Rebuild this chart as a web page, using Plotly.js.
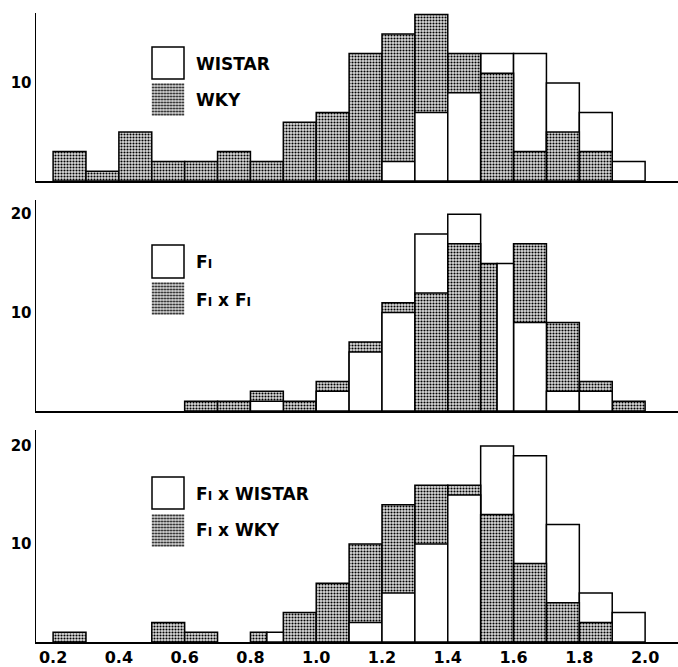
<!DOCTYPE html>
<html><head><meta charset="utf-8">
<script src="https://cdn.plot.ly/plotly-3.0.1.min.js"></script>
<style>html,body{margin:0;padding:0;background:#fff}</style>
</head><body><div id="chart" style="width:678px;height:667px"></div>
<script>
// bin start values (bins are 0.1 wide)
const bins = [0.2,0.3,0.4,0.5,0.6,0.7,0.8,0.9,1.0,1.1,1.2,1.3,1.4,1.5,1.6,1.7,1.8,1.9];
// panel 1
const wistar  = [0,0,0,0,0,0,0,0,0,0,2,7,9,13,13,10,7,2];
const wky     = [3,1,5,2,2,3,2,6,7,13,15,17,13,11,3,5,3,0];
// panel 2
const f1      = [0,0,0,0,0,0,1,0,2,6,10,18,20,15,9,2,2,0];
const f1xf1   = [0,0,0,0,1,1,2,1,3,7,11,12,17,15,17,9,3,1];
// panel 3
const f1xWistar = [0,0,0,0,0,0,1,0,0,2,5,10,15,20,19,12,5,3];
const f1xWky    = [1,0,0,2,1,0,1,3,6,10,14,16,16,13,8,4,2,0];
const xTicks = [0.2,0.4,0.6,0.8,1.0,1.2,1.4,1.6,1.8,2.0];
const xTickText = ['0.2','0.4','0.6','0.8','1.0','1.2','1.4','1.6','1.8','2.0'];
const SUB = 'F<span style="font-size:12px">I</span>';
const legendLabels = [
  ['WISTAR','WKY'],
  [SUB, SUB + ' x ' + SUB],
  [SUB + ' x WISTAR', SUB + ' x WKY']
];

const FONT = 'DejaVu Sans, sans-serif';
const W = 0.1;
const PAT = {size:3, solidity:0.4, fg:'#000000', bg:'#dcdcdc'};
const whiteMarker = {color:'#ffffff', line:{color:'#000', width:1.5}};
const stipMarker = {color:'#ffffff', line:{color:'#000', width:1.5},
  pattern:{shape:'.', fgcolor:PAT.fg, bgcolor:PAT.bg, size:PAT.size, solidity:PAT.solidity}};

function panelTraces(white, stip, ax) {
  const xa = 'x' + (ax===1?'':ax), ya = 'y' + (ax===1?'':ax);
  const pick = (arr, cond) => arr.map((v,i)=> cond(i) && v>0 ? v : null);
  const base = {type:'bar', x:bins, xaxis:xa, yaxis:ya, showlegend:false, hoverinfo:'skip'};
  return [
    Object.assign({}, base, {y:pick(white,i=>white[i]>stip[i]), offset:0, width:W, marker:whiteMarker}),
    Object.assign({}, base, {y:pick(stip,i=>stip[i]>white[i]), offset:0, width:W, marker:stipMarker}),
    Object.assign({}, base, {y:pick(white,i=>white[i]<stip[i]), offset:0, width:W, marker:whiteMarker}),
    Object.assign({}, base, {y:pick(stip,i=>stip[i]<white[i]), offset:0, width:W, marker:stipMarker}),
    Object.assign({}, base, {y:pick(stip,i=>stip[i]===white[i]), offset:0, width:W/2, marker:stipMarker}),
    Object.assign({}, base, {y:pick(white,i=>stip[i]===white[i]), offset:W/2, width:W/2, marker:whiteMarker})
  ];
}

const data = [].concat(
  panelTraces(wistar, wky, 1),
  panelTraces(f1, f1xf1, 2),
  panelTraces(f1xWistar, f1xWky, 3)
);

// pixel -> paper helpers (plot area: left 36, top 10, width 642, height 632)
const PX = px => (px-36)/642;
const PY = py => (642-py)/632;

function xax(showLabels){
  return {range:[0.148,2.1], domain:[0,1], showline:true, linecolor:'#000', linewidth:1.5,
    showgrid:false, zeroline:false, ticks:'', tickvals:xTicks, ticktext:xTickText,
    showticklabels:showLabels, tickfont:{family:FONT, size:16, color:'#000', weight:'bold'}, fixedrange:true};
}
function yax(dom, rng, tv){
  return {domain:dom, range:rng, showline:true, linecolor:'#000', linewidth:1.5, showgrid:false,
    zeroline:false, ticks:'', tickvals:tv, ticktext:tv.map(String),
    tickfont:{family:FONT, size:15, color:'#000', weight:'bold'}, fixedrange:true};
}

const legendPos = [ {box1:[47,79], box2:[83,116], lab:[64,100]},
                    {box1:[245,278], box2:[282,315], lab:[262,300]},
                    {box1:[477,509], box2:[514,547], lab:[494,530]} ];

const r = Math.sqrt(PAT.solidity*PAT.size*PAT.size/Math.PI);
const stipSvg = "<svg xmlns='http://www.w3.org/2000/svg' width='33' height='33' viewBox='0 0 33 33' shape-rendering='auto'><defs><pattern id='p' width='"+PAT.size+"' height='"+PAT.size+"' patternUnits='userSpaceOnUse'><rect width='"+PAT.size+"' height='"+PAT.size+"' fill='"+PAT.bg+"'/><circle cx='"+(PAT.size/2)+"' cy='"+(PAT.size/2)+"' r='"+r.toFixed(3)+"' fill='"+PAT.fg+"'/></pattern></defs><rect width='33' height='33' fill='url(#p)'/></svg>";
const stipSrc = 'data:image/svg+xml;charset=utf-8,' + encodeURIComponent(stipSvg);

const shapes = [], annotations = [], images = [];
legendPos.forEach((p,k)=>{
  shapes.push({type:'rect', xref:'paper', yref:'paper', x0:PX(152), x1:PX(184), y0:PY(p.box1[1]), y1:PY(p.box1[0]),
    line:{color:'#000', width:1.5}, fillcolor:'#fff'});
  images.push({source:stipSrc, xref:'paper', yref:'paper', x:PX(151.5), y:PY(p.box2[0]),
    sizex:33/642, sizey:33/632, sizing:'stretch', xanchor:'left', yanchor:'top', layer:'above'});
  legendLabels[k].forEach((t,j)=>{
    annotations.push({xref:'paper', yref:'paper', x:PX(194), y:PY(p.lab[j]), xanchor:'left', yanchor:'middle',
      text:t, showarrow:false, font:{family:FONT, size:17, color:'#000', weight:'bold'}});
  });
});

const layout = {
  width:678, height:667, margin:{l:36, r:0, t:10, b:25},
  paper_bgcolor:'#fff', plot_bgcolor:'rgba(0,0,0,0)',
  barmode:'overlay', showlegend:false,
  xaxis: Object.assign(xax(false), {anchor:'y'}),
  yaxis: Object.assign(yax([PY(181),PY(13)], [0,(181-13)/9.8], [10]), {anchor:'x'}),
  xaxis2: Object.assign(xax(false), {anchor:'y2'}),
  yaxis2: Object.assign(yax([PY(411),PY(200)], [0,(411-200)/9.84], [10,20]), {anchor:'x2'}),
  xaxis3: Object.assign(xax(true), {anchor:'y3'}),
  yaxis3: Object.assign(yax([PY(642),PY(430)], [0,(642-430)/9.8], [10,20]), {anchor:'x3'}),
  shapes:shapes, annotations:annotations, images:images
};

Plotly.newPlot('chart', data, layout, {displayModeBar:false, staticPlot:true});
</script>
</body></html>
